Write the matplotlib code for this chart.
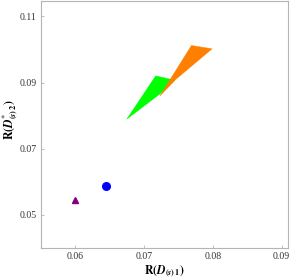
import matplotlib
matplotlib.use("Agg")
import matplotlib.pyplot as plt

plt.rcParams['font.family'] = ['Liberation Serif', 'DejaVu Serif']
plt.rcParams['mathtext.fontset'] = 'stix'

# Region boundaries
green_x = [0.0675, 0.0717, 0.0745, 0.0726]
green_y = [0.0789, 0.0920, 0.0907, 0.0870]
orange_x = [0.0723, 0.0769, 0.0775, 0.0799, 0.0746]
orange_y = [0.0859, 0.1012, 0.1010, 0.1002, 0.0909]

# Points
circle_x, circle_y = [0.0645], [0.0587]
tri_x, tri_y = [0.0600], [0.0546]

xticks = [0.06, 0.07, 0.08, 0.09]
yticks = [0.05, 0.07, 0.09, 0.11]

fig = plt.figure(figsize=(2.91, 2.79), dpi=100)
ax = fig.add_axes([0.140, 0.112, 0.849, 0.886])

ax.fill(green_x, green_y, color='#00ff00', lw=0.3, ec='#00ff00', zorder=2)
ax.fill(orange_x, orange_y, color='#ff8000', lw=0.3, ec='#ff8000', zorder=3)
ax.plot(circle_x, circle_y, 'o', color='#0000ff', ms=5.5, zorder=4)
ax.plot(tri_x, tri_y, '^', color='#800080', ms=4.2, zorder=4)

ax.set_xlim(0.055, 0.0909)
ax.set_ylim(0.040, 0.1148)
ax.set_xticks(xticks)
ax.set_yticks(yticks)
ax.set_xticklabels([f'{v:.2f}' for v in xticks])
ax.set_yticklabels([f'{v:.2f}' for v in yticks])

for s in ax.spines.values():
    s.set_color('#b4b4b4')
    s.set_linewidth(0.8)
ax.tick_params(direction='in', length=2.5, width=0.6, color='#b4b4b4',
               labelsize=7, labelcolor='#333333', pad=3)

ax.set_xlabel(r'$\mathbf{R(}\mathbfit{D}_{\mathbf{(}\mathbfit{s}\mathbf{)\,1}}\mathbf{)}$',
              fontsize=8.5, labelpad=2)
ax.set_ylabel(r'$\mathbf{R(}\mathbfit{D}^{*}_{\mathbf{(}\mathbfit{s}\mathbf{)\,2}}\mathbf{)}$',
              fontsize=8.5)
ax.yaxis.set_label_coords(-0.088, 0.52)

fig.savefig('out.png', dpi=100)
